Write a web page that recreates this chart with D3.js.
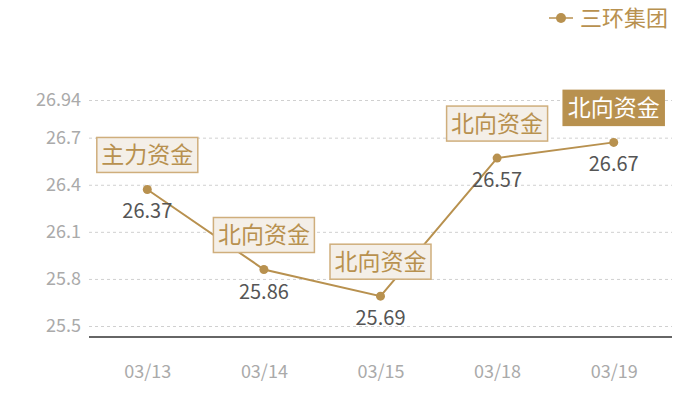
<!DOCTYPE html>
<html><head><meta charset="utf-8">
<script src="https://cdn.jsdelivr.net/npm/d3@7/dist/d3.min.js"></script>
<style>
html,body{margin:0;padding:0;background:#fff;}
text{font-family:"Noto Sans CJK SC","Noto Sans",sans-serif;}
</style></head>
<body><svg id="c" width="700" height="400"></svg>
<script>
const categories = ["03/13","03/14","03/15","03/18","03/19"];
const values = [26.37, 25.86, 25.69, 26.57, 26.67];
const flags = ["主力资金","北向资金","北向资金","北向资金","北向资金"];
const yTicks = [25.5, 25.8, 26.1, 26.4, 26.7, 26.94];
const seriesName = "三环集团";
const yDomain = [25.43, 26.94];

const gold = "#b8914f";
const svg = d3.select("#c");
const pLeft = 89, pRight = 672, pTop = 100, pBottom = 337;
const x = d3.scalePoint().domain(categories).range([pLeft, pRight]).padding(0.5);
const y = d3.scaleLinear().domain(yDomain).range([pBottom, pTop]);

// grid
const yAxis = d3.axisLeft(y).tickValues(yTicks).tickSize(-(pRight-pLeft)).tickPadding(8)
  .tickFormat(d => String(d));
const gy = svg.append("g").attr("transform", `translate(${pLeft},0)`).call(yAxis);
gy.select(".domain").remove();
gy.selectAll(".tick line").attr("stroke", "#d0d0d0").attr("stroke-dasharray", "3,3");
gy.selectAll(".tick text").attr("fill", "#aaaaaa").attr("font-size", 18);

// x axis
const xAxis = d3.axisBottom(x).tickSize(0).tickPadding(28);
const gx = svg.append("g").attr("transform", `translate(0,${pBottom})`).call(xAxis);
gx.select(".domain").attr("stroke", "#333").attr("stroke-width", 1.3).attr("d", `M${pLeft},0H${pRight}`);
gx.selectAll(".tick text").attr("fill", "#aaaaaa").attr("font-size", 18);

const data = categories.map((c,i)=>({c, v: values[i], f: flags[i], last: i===categories.length-1}));

// line
svg.append("path").datum(data)
  .attr("fill","none").attr("stroke",gold).attr("stroke-width",2)
  .attr("d", d3.line().x(d=>x(d.c)).y(d=>y(d.v)));

// points
svg.selectAll("circle.pt").data(data).join("circle").attr("class","pt")
  .attr("cx", d=>x(d.c)).attr("cy", d=>y(d.v)).attr("r", 4.5).attr("fill", gold);

// value labels
svg.selectAll("text.val").data(data).join("text").attr("class","val")
  .attr("x", d=>x(d.c)).attr("y", d=>y(d.v)+22).attr("dy","0.35em")
  .attr("text-anchor","middle").attr("fill","#555").attr("font-size",20)
  .text(d=>d.v.toFixed(2));

// annotation boxes
const bw = 101, bh = 35, gap = 17;
const ann = svg.selectAll("g.ann").data(data).join("g").attr("class","ann")
  .attr("transform", d=>`translate(${x(d.c)},${y(d.v)-gap-bh/2})`);
ann.append("rect").attr("x",-bw/2).attr("y",-bh/2).attr("width",bw).attr("height",bh)
  .attr("fill", d=>d.last?gold:"#f4efe8").attr("stroke", d=>d.last?gold:"#cfae7c").attr("stroke-width",1.5);
ann.append("text").attr("text-anchor","middle").attr("dy","0.36em").attr("font-size",23)
  .attr("fill", d=>d.last?"#fff":gold).text(d=>d.f);

// legend
const lg = svg.append("g").attr("transform","translate(549,18)");
lg.append("line").attr("x1",0).attr("x2",24).attr("stroke",gold).attr("stroke-width",1.5);
lg.append("circle").attr("cx",12).attr("r",5).attr("fill",gold);
lg.append("text").attr("x",31).attr("dy","0.36em").attr("font-size",22).attr("fill",gold).text(seriesName);
</script></body></html>
